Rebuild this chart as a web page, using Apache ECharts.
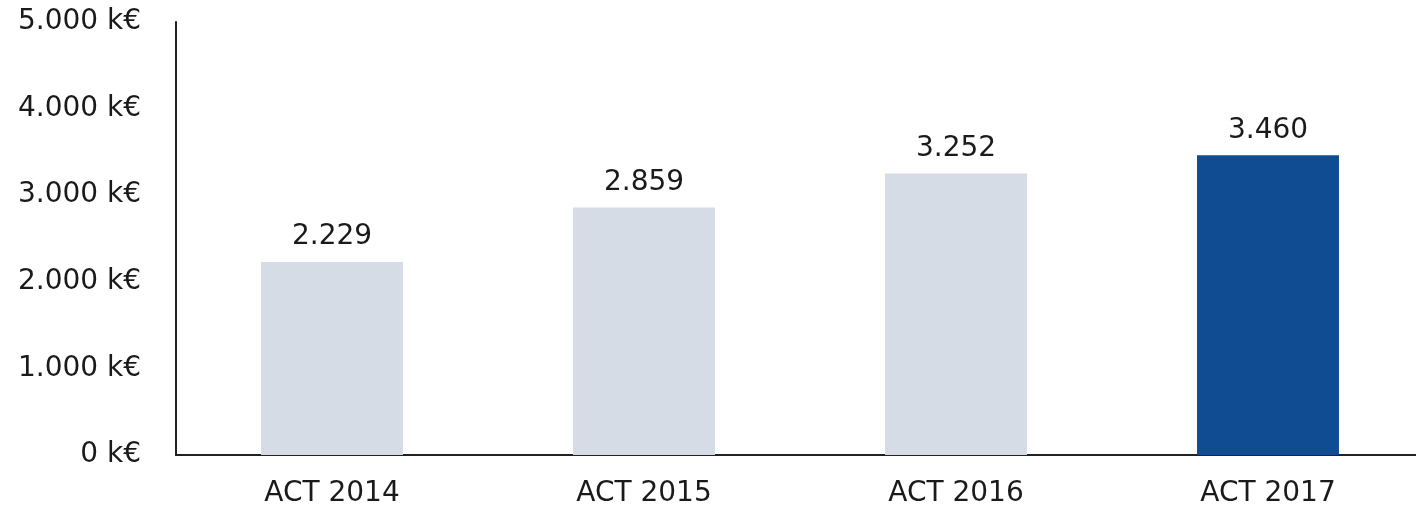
<!DOCTYPE html>
<html>
<head>
<meta charset="utf-8">
<script src="https://cdn.jsdelivr.net/npm/echarts@6/dist/echarts.min.js"></script>
<style>
  html, body { margin: 0; padding: 0; background: #fff; overflow: hidden; }
  #chart { width: 1424px; height: 507px; }
</style>
</head>
<body>
<div id="chart"></div>
<script>
const categories = ['ACT 2014', 'ACT 2015', 'ACT 2016', 'ACT 2017']
const values = [2229, 2859, 3252, 3460]
const highlightIndex = 3

const fmt = v => String(v).replace(/\B(?=(\d{3})+(?!\d))/g, '.')

const chart = echarts.init(document.getElementById('chart'))

const textStyle = { color: '#1a1a1a', fontSize: 28, fontFamily: 'DejaVu Sans' }

const option = {
  animation: false,
  grid: { left: 176, right: 0, top: 22, bottom: 52, outerBoundsMode: 'none' },
  xAxis: {
    type: 'category',
    data: categories,
    axisLine: { lineStyle: { color: '#222', width: 2 } },
    axisTick: { show: false },
    axisLabel: { ...textStyle, margin: 25 },
  },
  yAxis: {
    type: 'value',
    min: 0,
    max: 5000,
    interval: 1000,
    axisLine: { show: true, lineStyle: { color: '#222', width: 2 } },
    axisTick: { show: false },
    splitLine: { show: false },
    axisLabel: {
      ...textStyle,
      margin: 35,
      formatter: v => fmt(v) + ' k€',
    },
  },
  series: [
    {
      type: 'bar',
      barWidth: '45.5%',
      data: values.map((v, i) => ({
        value: v,
        itemStyle: { color: i === highlightIndex ? '#0f4c91' : '#d6dce5' },
      })),
      label: {
        show: true,
        position: 'top',
        distance: 11,
        ...textStyle,
        formatter: p => fmt(p.value),
      },
    },
  ],
}

chart.setOption(option)
</script>
</body>
</html>
